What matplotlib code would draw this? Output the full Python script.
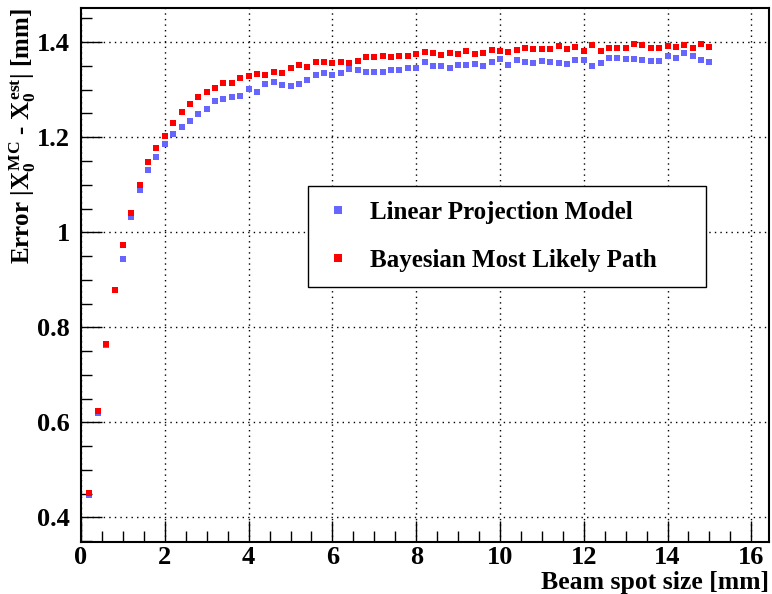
import numpy as np
import matplotlib
matplotlib.use("Agg")
import matplotlib.pyplot as plt
from matplotlib.ticker import MultipleLocator

# ---- data ----
beam_spot = np.round(np.arange(1, 76) * 0.2, 1)   # 0.2 ... 15.0 mm

linear_err = [
    0.447, 0.619, 0.763, 0.879, 0.944, 1.033, 1.088, 1.131, 1.159, 1.186,
    1.206, 1.222, 1.235, 1.249, 1.259, 1.276, 1.281, 1.284, 1.287, 1.302,
    1.296, 1.312, 1.316, 1.309, 1.307, 1.312, 1.321, 1.331, 1.335, 1.331,
    1.335, 1.344, 1.342, 1.338, 1.337, 1.337, 1.342, 1.342, 1.346, 1.346,
    1.359, 1.349, 1.350, 1.346, 1.353, 1.352, 1.354, 1.350, 1.358, 1.365,
    1.353, 1.363, 1.359, 1.356, 1.361, 1.359, 1.357, 1.355, 1.363, 1.363,
    1.350, 1.357, 1.366, 1.367, 1.365, 1.365, 1.363, 1.361, 1.361, 1.370,
    1.367, 1.377, 1.370, 1.363, 1.359,
]

bayes_err = [
    0.452, 0.623, 0.765, 0.879, 0.973, 1.041, 1.100, 1.147, 1.177, 1.203,
    1.230, 1.254, 1.269, 1.284, 1.295, 1.303, 1.315, 1.315, 1.324, 1.328,
    1.333, 1.330, 1.338, 1.336, 1.345, 1.352, 1.348, 1.359, 1.359, 1.356,
    1.359, 1.356, 1.361, 1.368, 1.368, 1.370, 1.369, 1.370, 1.371, 1.375,
    1.379, 1.377, 1.373, 1.378, 1.376, 1.381, 1.376, 1.377, 1.384, 1.382,
    1.379, 1.384, 1.387, 1.386, 1.386, 1.386, 1.392, 1.386, 1.389, 1.382,
    1.394, 1.381, 1.387, 1.387, 1.388, 1.396, 1.394, 1.387, 1.387, 1.392,
    1.390, 1.394, 1.388, 1.396, 1.391,
]

series_names = ["Linear Projection Model", "Bayesian Most Likely Path"]
series_colors = ["#6666ff", "#ff0000"]

# ---- style: ROOT-like bold serif ----
plt.rcParams["font.family"] = ["Liberation Serif", "DejaVu Serif"]
plt.rcParams["font.weight"] = "bold"
plt.rcParams["mathtext.fontset"] = "custom"
plt.rcParams["mathtext.rm"] = "Liberation Serif:bold"
plt.rcParams["mathtext.it"] = "Liberation Serif:bold"
plt.rcParams["mathtext.bf"] = "Liberation Serif:bold"

fig = plt.figure(figsize=(7.72, 5.94), dpi=100)
ax = fig.add_axes([0.105, 0.0875, 0.891, 0.899])

ax.plot(beam_spot, linear_err, "s", color=series_colors[0], markersize=5,
        markeredgewidth=0, label=series_names[0])
ax.plot(beam_spot, bayes_err, "s", color=series_colors[1], markersize=5,
        markeredgewidth=0, label=series_names[1])

ax.set_xlim(0, 16.42)
ax.set_ylim(0.348, 1.472)

ax.xaxis.set_major_locator(MultipleLocator(2))
ax.xaxis.set_minor_locator(MultipleLocator(0.5))
ax.yaxis.set_major_locator(MultipleLocator(0.2))
ax.yaxis.set_minor_locator(MultipleLocator(0.05))
ax.yaxis.set_major_formatter(plt.FuncFormatter(lambda v, p: f"{v:g}"))

ax.grid(True, which="major", color="black", linestyle=(0, (1, 3)), linewidth=1)
ax.tick_params(which="both", direction="in", top=False, right=False,
               labelsize=19, width=1)
ax.tick_params(which="major", length=15)
ax.tick_params(which="minor", length=8)
ax.tick_params(axis="x", pad=3)
ax.tick_params(axis="y", pad=8)
for sp in ax.spines.values():
    sp.set_linewidth(1.5)

ax.set_xlabel("Beam spot size [mm]", fontsize=18.5, fontweight="bold")
ax.xaxis.set_label_coords(1.0, -0.055)
ax.xaxis.label.set_horizontalalignment("right")
ax.xaxis.label.set_verticalalignment("top")
ax.set_ylabel(r"Error $|X_0^{MC}$ - $X_0^{est}|$ [mm]", fontsize=18,
              fontweight="bold")
ax.yaxis.set_label_coords(-0.107, 1.0)
ax.yaxis.label.set_verticalalignment("top")
ax.yaxis.label.set_horizontalalignment("right")

leg = ax.legend(loc="upper left", bbox_to_anchor=(0.33, 0.667, 0.578, 0.0),
                mode="expand", fontsize=18, frameon=True, fancybox=False,
                edgecolor="black", framealpha=1, borderpad=0.6,
                borderaxespad=0, labelspacing=1.0, handlelength=1.16,
                handletextpad=0.7, markerscale=1.15)
leg.get_frame().set_linewidth(1)
for t in leg.get_texts():
    t.set_fontweight("bold")

fig.savefig("out.png", dpi=100)
